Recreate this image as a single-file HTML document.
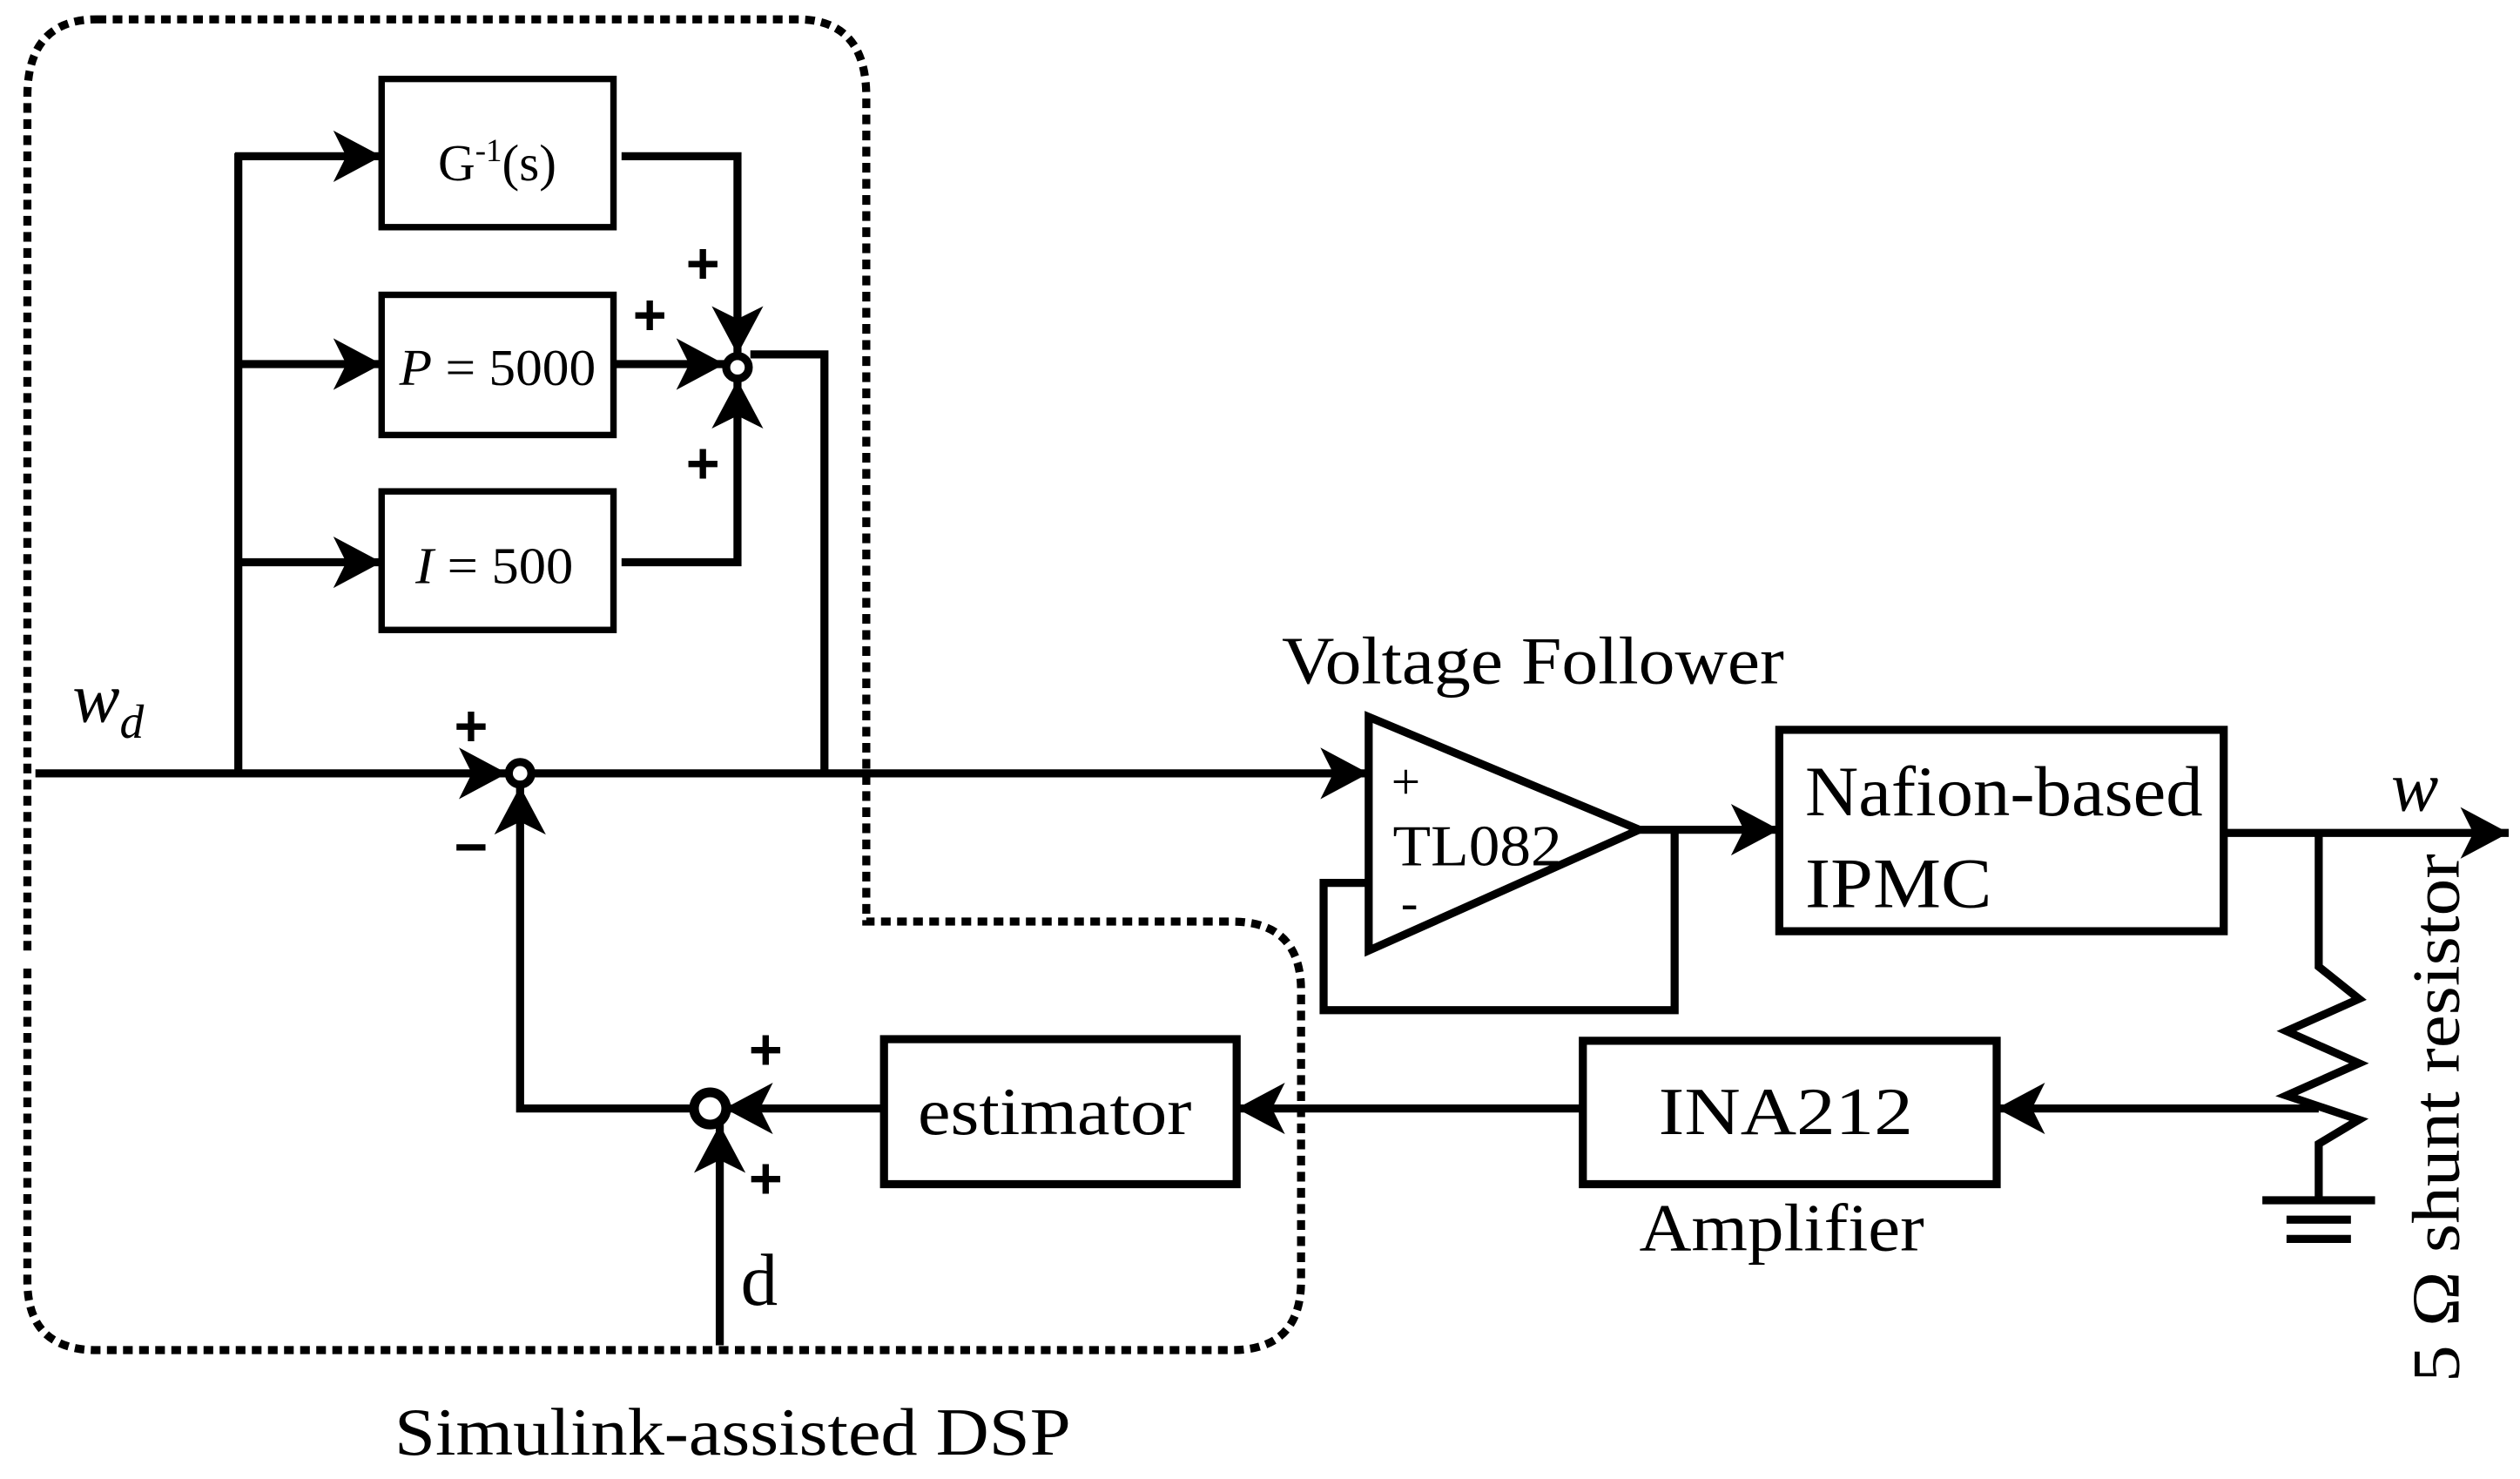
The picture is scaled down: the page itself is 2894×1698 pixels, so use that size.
<!DOCTYPE html>
<html><head><style>html,body{margin:0;padding:0;background:#fff}svg{display:block}</style></head><body>
<svg width="2894" height="1698" viewBox="0 0 1565 918" preserveAspectRatio="none" xmlns="http://www.w3.org/2000/svg" font-family="Liberation Serif, serif">
<defs>
<marker id="b" markerWidth="36" markerHeight="36" refX="34" refY="18" orient="auto" markerUnits="userSpaceOnUse" viewBox="0 0 36 36"><path d="M4,2 L34,18 L4,34 L12,18Z" fill="#000"/></marker></defs>
<g fill="none" stroke="#000" stroke-width="5" stroke-dasharray="6,4">
<path d="M60,12 H495 Q538,12 538,60 V572 H765 Q808,572 808,615 V795 Q808,838 765,838 H60 Q17,838 17,795 V600 M17,590 V60 Q17,12 60,12"/>
</g>
<g fill="none" stroke="#000" stroke-width="5">
<rect x="237" y="49" width="144" height="92" stroke-width="4"/>
<rect x="237" y="183" width="144" height="87" stroke-width="4"/>
<rect x="237" y="305" width="144" height="86" stroke-width="4"/>
<rect x="549" y="645" width="219" height="90"/>
<rect x="983" y="646" width="257" height="89"/>
<rect x="1105" y="453" width="276" height="125"/>
<path d="M850,445 L850,590 L1018,515Z"/>
<path d="M148,480 V95" />
<path d="M146,97 H237" marker-end="url(#b)"/>
<path d="M148,226 H237" marker-end="url(#b)"/>
<path d="M148,349 H237" marker-end="url(#b)"/>
<path d="M386,97 H458 V220" marker-end="url(#b)"/>
<path d="M386,349 H458 V236" marker-end="url(#b)"/>
<path d="M381,226 H450" marker-end="url(#b)"/>
<path d="M466,220 H512 V480"/>
<path d="M22,480 H315" marker-end="url(#b)"/>
<path d="M331,480 H850" marker-end="url(#b)"/>
<path d="M433,688 H323 V488" marker-end="url(#b)"/>
<path d="M549,688 H450" marker-end="url(#b)"/>
<path d="M447,835 V698" marker-end="url(#b)"/>
<path d="M983,688 H768" marker-end="url(#b)"/>
<path d="M1440,688 H1240" marker-end="url(#b)"/>
<path d="M1018,515 H1105" marker-end="url(#b)"/>
<path d="M1040,515 V627 H822 V548 H850"/>
<path d="M1381,517 H1558" marker-end="url(#b)"/>
<path d="M1440,517 V600 L1465,620 L1420,640 L1465,660 L1420,680 L1465,695 L1440,710 V745"/>
<path d="M1405,745 H1475 M1420,757 H1460 M1420,769 H1460"/>
<circle cx="458" cy="228" r="7" stroke-width="5"/>
<circle cx="323" cy="480" r="7" stroke-width="5"/>
<circle cx="441" cy="688" r="10" stroke-width="6"/>
</g>
<g fill="#000" lengthAdjust="spacingAndGlyphs">
<text x="272" y="112" font-size="32">G<tspan font-size="20" dy="-12">-1</tspan><tspan dy="12">(s)</tspan></text>
<text x="248" y="239" font-size="32" textLength="122" lengthAdjust="spacingAndGlyphs"><tspan font-style="italic">P</tspan> = 5000</text>
<text x="258" y="362" font-size="32" textLength="98" lengthAdjust="spacingAndGlyphs"><tspan font-style="italic">I</tspan> = 500</text>
<text x="570" y="704" font-size="42" textLength="170" lengthAdjust="spacingAndGlyphs">estimator</text>
<text x="1030" y="704" font-size="42" textLength="158" lengthAdjust="spacingAndGlyphs">INA212</text>
<text x="1018" y="776" font-size="42" textLength="177" lengthAdjust="spacingAndGlyphs">Amplifier</text>
<text x="1121" y="506" font-size="44" textLength="247" lengthAdjust="spacingAndGlyphs">Nafion-based</text>
<text x="1121" y="563" font-size="44" textLength="116" lengthAdjust="spacingAndGlyphs">IPMC</text>
<text x="796" y="424" font-size="42" textLength="312" lengthAdjust="spacingAndGlyphs">Voltage Follower</text>
<text x="865" y="537" font-size="36" textLength="105" lengthAdjust="spacingAndGlyphs">TL082</text>
<text x="864" y="496" font-size="32">+</text>
<text x="870" y="571" font-size="32">-</text>
<text x="245" y="903" font-size="42" textLength="420" lengthAdjust="spacingAndGlyphs">Simulink-assisted DSP</text>
<text x="460" y="810" font-size="46">d</text>
<text x="45" y="448" font-size="44" font-style="italic">w<tspan font-size="30" dy="10">d</tspan></text>
<text x="1485" y="503" font-size="44" font-style="italic">w</text>
<g font-family="Liberation Sans, sans-serif" font-weight="bold" font-size="36">
<text x="426" y="176">+</text><text x="393" y="208">+</text><text x="426" y="300">+</text>
<text x="282" y="463">+</text><text x="282" y="538">−</text>
<text x="465" y="664">+</text><text x="465" y="744">+</text>
</g>
<text transform="translate(1527,858) rotate(-90)" font-size="42" textLength="328" lengthAdjust="spacingAndGlyphs">5 Ω shunt resistor</text>
</g>
</svg>
</body></html>
